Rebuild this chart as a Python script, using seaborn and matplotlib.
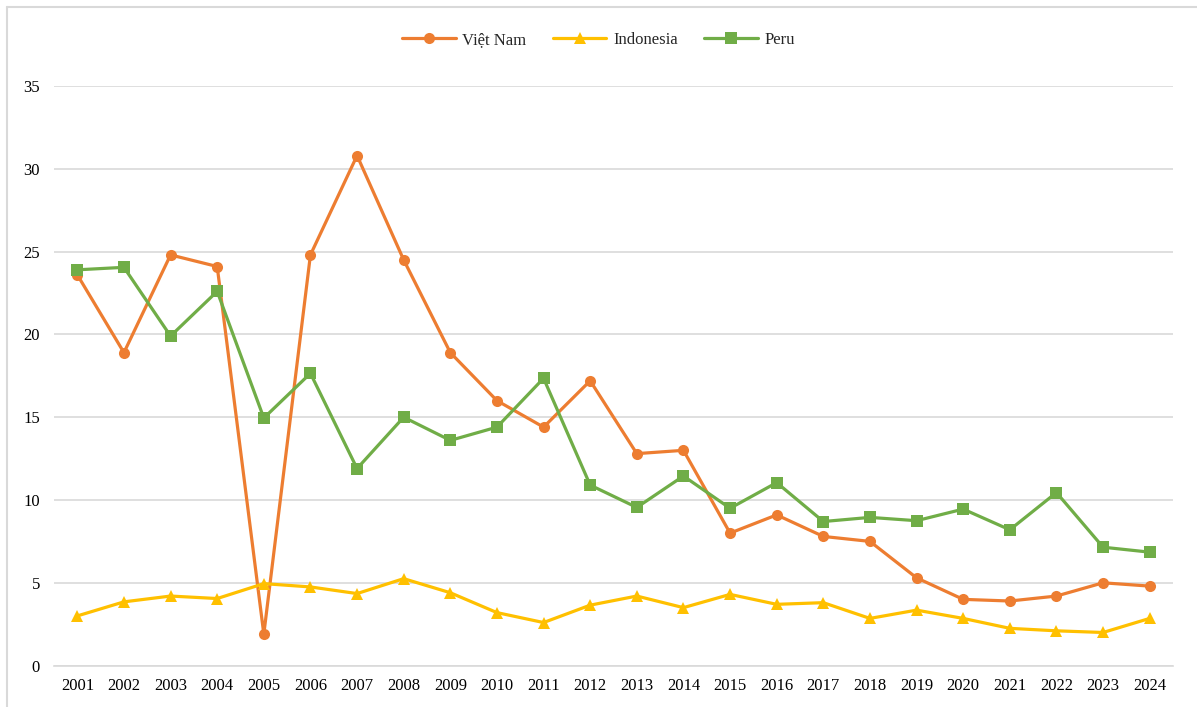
import matplotlib
matplotlib.use("Agg")
import matplotlib.pyplot as plt
import seaborn as sns
import pandas as pd
from matplotlib.lines import Line2D

years = list(range(2001, 2025))
viet_nam = [23.6, 18.9, 24.8, 24.1, 1.9, 24.8, 30.8, 24.5, 18.9, 16.0, 14.4, 17.2,
            12.8, 13.0, 8.0, 9.1, 7.8, 7.5, 5.3, 4.0, 3.9, 4.2, 5.0, 4.8]
indonesia = [3.0, 3.85, 4.2, 4.05, 4.95, 4.75, 4.35, 5.25, 4.4, 3.2, 2.6, 3.65,
             4.2, 3.5, 4.3, 3.7, 3.8, 2.85, 3.35, 2.85, 2.25, 2.1, 2.0, 2.85]
peru = [23.9, 24.05, 19.9, 22.6, 14.95, 17.65, 11.9, 15.0, 13.6, 14.4, 17.35, 10.9,
        9.55, 11.45, 9.5, 11.05, 8.7, 8.95, 8.75, 9.45, 8.2, 10.45, 7.15, 6.85]
series_names = ["Việt Nam", "Indonesia", "Peru"]
yticks = [0, 5, 10, 15, 20, 25, 30, 35]

df = pd.DataFrame({
    "year": years * 3,
    "value": viet_nam + indonesia + peru,
    "series": [series_names[0]] * 24 + [series_names[1]] * 24 + [series_names[2]] * 24,
})

sns.set_theme(style="white")
plt.rcParams["font.family"] = ["Liberation Serif", "DejaVu Serif"]

fig = plt.figure(figsize=(11.97, 7.07), dpi=100)
ax = fig.add_axes([54 / 1197, 1 - 665.6 / 707, (1173 - 54) / 1197, (665.6 - 86) / 707])

palette = {"Việt Nam": "#ED7D31", "Indonesia": "#FFC000", "Peru": "#70AD47"}
markers = {"Việt Nam": "o", "Indonesia": "^", "Peru": "s"}
sns.lineplot(data=df, x="year", y="value", hue="series", style="series",
             palette=palette, markers=markers, dashes=False, linewidth=2.3,
             markersize=8, markeredgewidth=0, ax=ax, zorder=3)

ax.set_xlim(2000.5, 2024.5)
ax.set_ylim(0, 35)
ax.set_xticks(years)
ax.set_xticklabels([str(y) for y in years], fontsize=12, color="#000000")
ax.set_yticks(yticks)
ax.set_yticklabels([str(v) for v in yticks], fontsize=12, color="#000000")
ax.set_xlabel("")
ax.set_ylabel("")
ax.grid(axis="y", color="#D9D9D9", linewidth=1.2, zorder=0)
ax.grid(axis="x", visible=False)
for s in ["top", "right", "left"]:
    ax.spines[s].set_visible(False)
ax.spines["bottom"].set_color("#D9D9D9")
ax.spines["bottom"].set_linewidth(1.2)
ax.tick_params(axis="x", length=0, pad=9)
ax.tick_params(axis="y", length=0, pad=10)

handles, labels = ax.get_legend_handles_labels()
ax.legend(handles, labels, loc="center", bbox_to_anchor=(0.5, (707 - 40) / 707),
          bbox_transform=fig.transFigure, ncol=3, frameon=False, fontsize=12,
          handlelength=3.2, columnspacing=1.6, handletextpad=0.4)

fig.add_artist(Line2D([7 / 1197, 7 / 1197], [0, 1 - 7 / 707], transform=fig.transFigure,
                      color="#D9D9D9", linewidth=1.5))
fig.add_artist(Line2D([7 / 1197, 1], [1 - 7 / 707, 1 - 7 / 707], transform=fig.transFigure,
                      color="#D9D9D9", linewidth=1.5))

fig.savefig("out.png", dpi=100)
